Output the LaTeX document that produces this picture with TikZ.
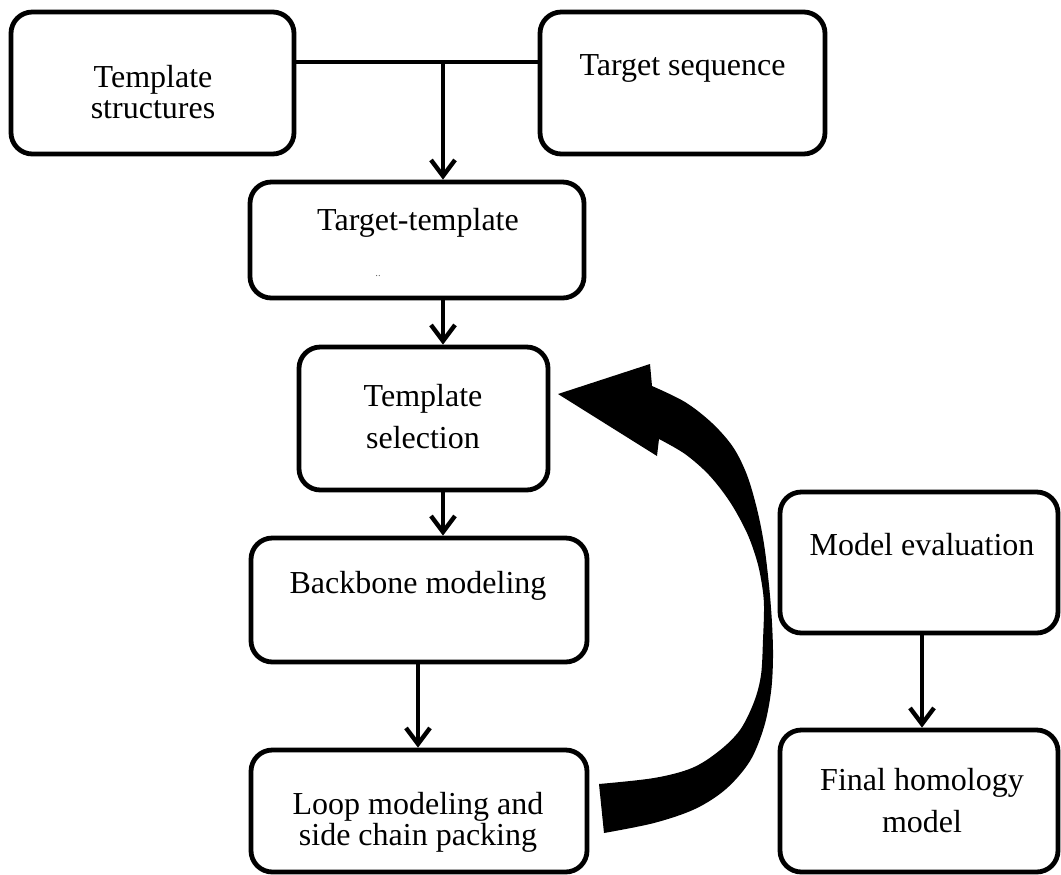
\documentclass[tikz,border=0pt]{standalone}
\usepackage{fontspec}
\setmainfont{Liberation Serif}
\usetikzlibrary{arrows.meta}
\begin{document}
\begin{tikzpicture}[x=0.75pt,y=-0.75pt,
  box/.style={draw, line width=3.6pt, rounded corners=16pt, inner sep=0pt},
  lbl/.style={font=\fontsize{24}{28}\selectfont, anchor=base, inner sep=0pt},
  conn/.style={line width=3.3pt},
  arr/.style={conn, -{Straight Barb[length=12pt,width=18pt]}}]
\useasboundingbox (0,0) rectangle (1061,875);
% boxes
\node[box, minimum width=212.25pt, minimum height=106.5pt] (tstruct) at (152.5,83) {};
\node[box, minimum width=213.75pt, minimum height=106.5pt] (tseq) at (682.5,83) {};
\node[box, minimum width=250.5pt, minimum height=87pt] (ttemp) at (417,240) {};
\node[box, minimum width=186.75pt, minimum height=107.25pt] (tsel) at (423.5,418.5) {};
\node[box, minimum width=252pt, minimum height=93pt] (bb) at (419,600) {};
\node[box, minimum width=252pt, minimum height=91.5pt] (loop) at (419,811) {};
\node[box, minimum width=208.5pt, minimum height=105.75pt] (meval) at (919,562.5) {};
\node[box, minimum width=208.5pt, minimum height=106.5pt] (final) at (919,801) {};
% labels
\node[lbl] (t1a) at (153,87) {Template};
\node[lbl] (t1b) at (153,118) {structures};
\node[lbl] (t2) at (682.5,75) {Target sequence};
\node[lbl] (t3) at (418,230) {Target-template};
\node[font=\fontsize{8}{8}\selectfont, text=black!60, inner sep=0pt] (t3dots) at (378,276) {..};
\node[lbl] (t4a) at (423,406) {Template};
\node[lbl] (t4b) at (423,448) {selection};
\node[lbl] (t5) at (418,593) {Backbone modeling};
\node[lbl] (t6a) at (418,814) {Loop modeling and};
\node[lbl] (t6b) at (418,845) {side chain packing};
\node[lbl] (t7) at (922,555) {Model evaluation};
\node[lbl] (t8a) at (922,790) {Final homology};
\node[lbl] (t8b) at (922,832) {model};
% connectors
\coordinate (j) at (443,62);
\draw[conn] (tstruct.east |- j) -- (tseq.west |- j);
\draw[arr] (j) -- (j |- ttemp.north);
\draw[arr] (ttemp.south -| j) -- (j |- tsel.north);
\draw[arr] (tsel.south -| j) -- (j |- bb.north);
\draw[arr] (bb.south -| 418,0) -- (loop.north -| 418,0);
\draw[arr] (meval.south -| 922,0) -- (final.north -| 922,0);
% big curved arrow (loop -> template selection)
\fill (558,394) -- (650,364) --
  plot[smooth, tension=0.55] coordinates {(652,386) (685,402) (712,423) (733,447) (747,475) (757,509) (764,544) (769,585) (772,623) (773,658) (771,692) (764,727) (750,761) (726,789) (695,809) (654,823) (604,833)}
  -- plot[smooth, tension=0.55] coordinates {(599,784) (654,778) (692,768) (719,751) (740,730) (754,702) (761,675) (763,640) (764,606) (762,585) (757,561) (747,533) (730,502) (709,475) (685,454) (659,439)}
  -- (657,456) -- cycle;
\end{tikzpicture}
\end{document}
